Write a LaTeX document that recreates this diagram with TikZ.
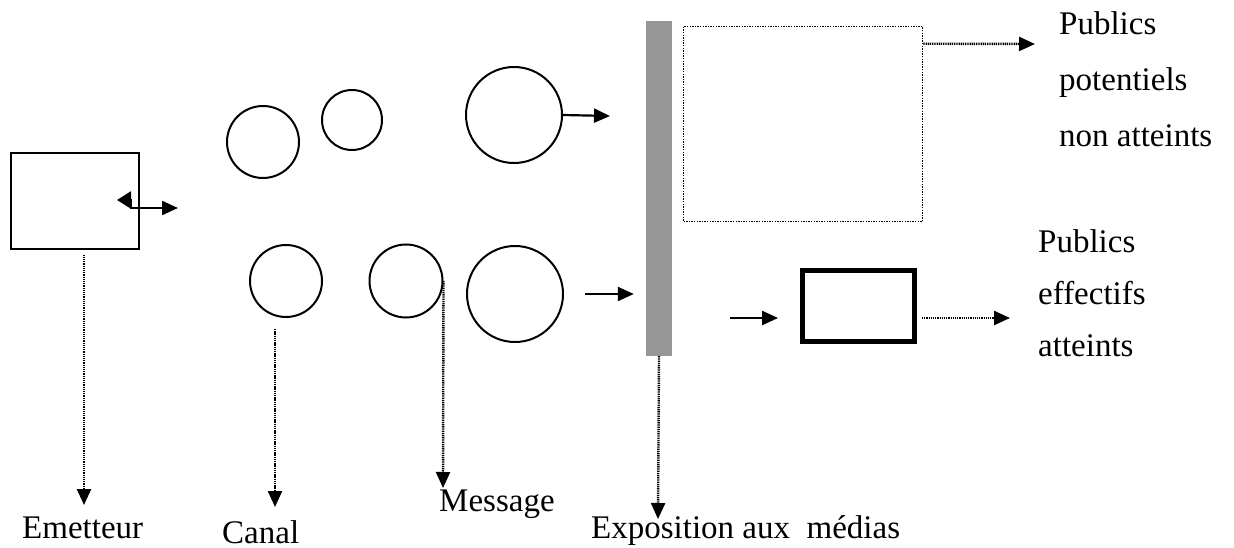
\documentclass[tikz,border=0pt]{standalone}
\usepackage{fontspec}
\setmainfont{Liberation Serif}
\usetikzlibrary{arrows.meta}
\definecolor{bargray}{HTML}{969696}
\tikzset{
  lbl/.style={inner sep=0pt, font=\fontsize{33}{39}\selectfont, anchor=base west},
  ring/.style={circle, draw, line width=2pt, inner sep=0pt},
  plainbox/.style={rectangle, draw, line width=2pt, inner sep=0pt},
  arr/.style={line width=2.2pt, -{Triangle[length=16pt,width=14pt]}},
  darr/.style={line width=2.4pt, dash pattern=on 1.3pt off 0.9pt, -{Triangle[length=16pt,width=14pt]}},
}
\begin{document}
\begin{tikzpicture}[x=1pt,y=-1pt]
\useasboundingbox (0,0) rectangle (1234,548);

% sender box
\node[plainbox, minimum width=128pt, minimum height=95pt] (em) at (74.5,201) {};

% channel / message circles
\node[ring, minimum size=72pt] (c1) at (263,142) {};
\node[ring, minimum size=60pt] (c2) at (352,120) {};
\node[ring, minimum size=96pt] (c3) at (514,115) {};
\node[ring, minimum size=72pt] (c4) at (286,281) {};
\node[ring, minimum size=73pt] (c5) at (406,281) {};
\node[ring, minimum size=96pt] (c6) at (515,294) {};

% media exposure bar
\node[rectangle, fill=bargray, inner sep=0pt, minimum width=26pt, minimum height=335pt] (bar) at (659,188.5) {};

% audiences boxes
\node[rectangle, draw, line width=1.6pt, dash pattern=on 1.4pt off 1.2pt, inner sep=0pt,
      minimum width=239pt, minimum height=195pt] (pot) at (803,124) {};
\node[rectangle, draw, line width=4.8pt, inner sep=0pt,
      minimum width=112pt, minimum height=71pt] (eff) at (858.5,306) {};

% labels
\node[lbl] (lEm) at (22,538) {Emetteur};
\node[lbl] (lCa) at (222,543) {Canal};
\node[lbl] (lMe) at (439,511) {Message};
\node[lbl] (lEx) at (591,538) {Exposition aux\ \ médias};
\node[lbl] (lP1) at (1059,35) {Publics};
\node[lbl] (lP2) at (1059,91) {potentiels};
\node[lbl] (lP3) at (1059,147) {non atteints};
\node[lbl] (lE1) at (1038,252) {Publics};
\node[lbl] (lE2) at (1038,304) {effectifs};
\node[lbl] (lE3) at (1038,356) {atteints};

% free arrow ends
\coordinate (tEm) at (84,505);
\coordinate (tCa) at (275,507);
\coordinate (tMe) at (443,488);
\coordinate (tEx) at (658,519);
\coordinate (sIn) at (585,294);
\coordinate (sEff) at (730,318);
\coordinate (tPot) at (1035,44);
\coordinate (tEff) at (1010,318);
\coordinate (tTop) at (610,116);
\coordinate (tDbl) at (178,208);
\coordinate (sDbl) at (117,200);

% double-headed arrow at the sender
\draw[line width=2.2pt, {Triangle[length=14pt,width=17pt]}-{Triangle[length=16pt,width=14pt]}]
  (sDbl) -- (131,200) -- (131,208) -- (tDbl);

% vertical dotted arrows to the labels
\draw[darr] ([yshift=-5pt]em.south -| tEm) -- (tEm);
\draw[darr] ([yshift=-11pt]c4.south -| tCa) -- (tCa);
\draw[darr] (c5.east) -- (tMe);
\draw[darr] (bar.south) -- (tEx);

% flow arrows
\draw[arr] (c3.east) -- (tTop);
\draw[arr, shorten >=12pt] (sIn) -- (sIn -| bar.west);
\draw[arr, shorten >=22pt] (sEff) -- (sEff -| eff.west);
\draw[darr] ([yshift=-18pt]pot.north east) -- (tPot);
\draw[darr] ([yshift=-12pt,xshift=5pt]eff.east) -- (tEff);
\end{tikzpicture}
\end{document}
